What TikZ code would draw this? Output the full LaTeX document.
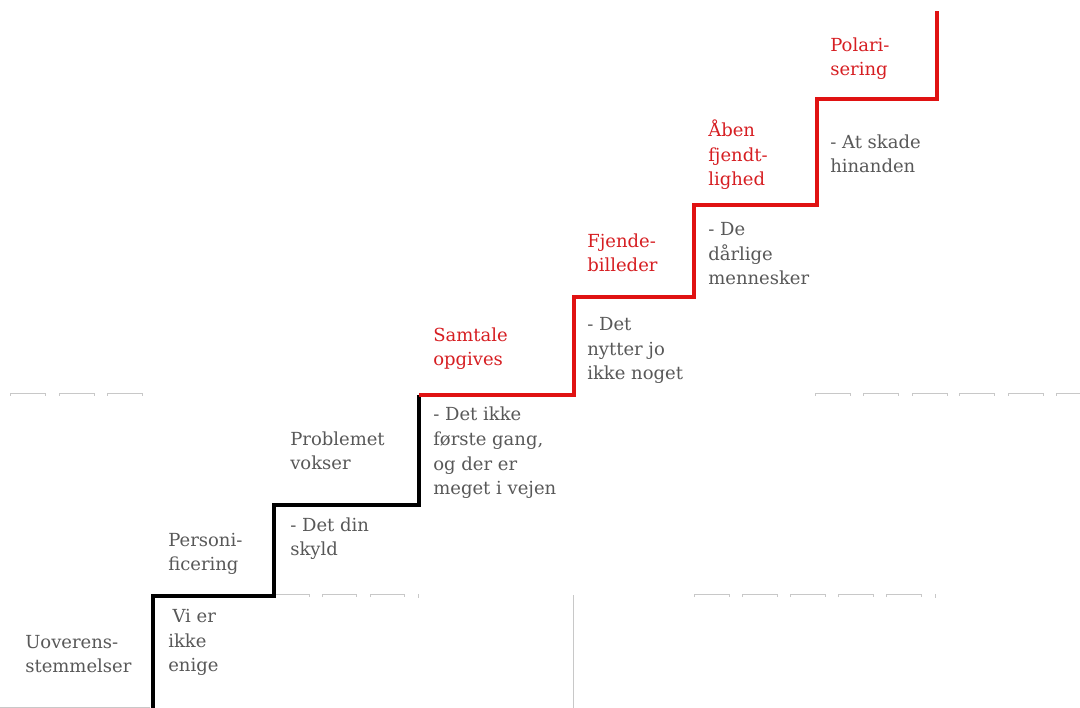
\documentclass[tikz,border=0pt]{standalone}
\usepackage{fontspec}
\setmainfont{DejaVu Serif}
\usepackage{tikz}
\usetikzlibrary{positioning}
\definecolor{stairblack}{RGB}{0,0,0}
\definecolor{stairred}{RGB}{224,18,18}
\definecolor{hotred}{RGB}{214,30,34}
\definecolor{txtgray}{RGB}{88,88,88}
\definecolor{ghostgray}{RGB}{200,200,200}
\newcommand{\stairfont}{\fontsize{12.8}{17.7}\selectfont}

\begin{document}
\begin{tikzpicture}[x=0.025cm, y=-0.025cm,
  lbl/.style={anchor=base west, inner sep=0pt, align=left,
    text=txtgray, font=\stairfont, yshift=-1.4pt},
  hot/.style={lbl, text=hotred},
  tread/.style={line width=3pt, line join=miter},
  ghost/.style={ghostgray, line width=0.6pt}]
\useasboundingbox (0,0) rectangle (1080,708);
% Faint leftovers of the grid
\foreach \x in {10,59,107}
  \draw[ghost] (\x,396) -- (\x,393) -- (\x+35,393) -- (\x+35,396);
\foreach \x in {815,863,912,959,1008,1056}
  \draw[ghost] (\x,396) -- (\x,393) -- (\x+35,393) -- (\x+35,396);
\foreach \x in {275,322,370}
  \draw[ghost] (\x,597) -- (\x,594) -- (\x+34,594) -- (\x+34,597);
\foreach \x in {694,742,790,838,886}
  \draw[ghost] (\x,597) -- (\x,594) -- (\x+35,594) -- (\x+35,597);
\draw[ghost] (418,594) -- (418,598);
\draw[ghost] (935,594) -- (935,598);
\draw[ghost] (573,595) -- (573,708);
\draw[ghost] (0,707) -- (150,707);
% Lower steps (black)
\draw[tread, stairblack] (153,708) -- (153,596) -- (274,596) -- (274,505)
  -- (419,505) -- (419,395);
% Upper steps (red)
\draw[tread, stairred] (419,395) -- (574,395) -- (574,297) -- (694,297)
  -- (694,205) -- (817,205) -- (817,99) -- (937,99) -- (937,11);
% Step 1 (base = last line)
\node[lbl] (uov) at (25,671) {Uoverens-\\stemmelser};
\node[lbl] (enige) at (168,670) {\hspace{3pt}Vi er\\ikke\\enige};
% Step 2
\node[lbl] (pers) at (168,569) {Personi-\\ficering};
\node[lbl] (skyld) at (290,554) {- Det din\\skyld};
% Step 3
\node[lbl] (vokser) at (290,468) {Problemet\\vokser};
\node[lbl] (vejen) at (433,493) {- Det ikke\\første gang,\\og der er\\meget i vejen};
% Step 4
\node[hot] (samtale) at (433,364) {Samtale\\opgives};
\node[lbl] (nytter) at (587,378) {- Det\\nytter jo\\ikke noget};
% Step 5
\node[hot] (fjende) at (587,270) {Fjende-\\billeder};
\node[lbl] (darlige) at (708,283) {- De\\dårlige\\mennesker};
% Step 6
\node[hot] (aaben) at (708,184) {Åben\\fjendt-\\lighed};
\node[lbl] (skade) at (830,171) {- At skade\\hinanden};
% Step 7
\node[hot] (polar) at (830,74) {Polari-\\sering};
\end{tikzpicture}
\end{document}
